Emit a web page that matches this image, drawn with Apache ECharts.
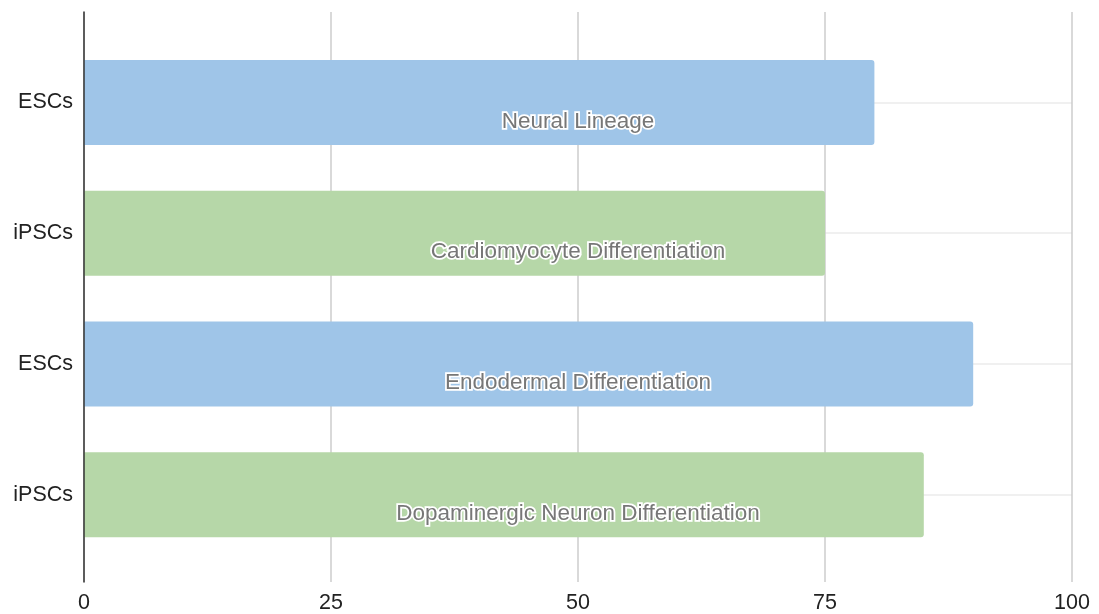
<!DOCTYPE html>
<html>
<head>
<meta charset="utf-8">
<title>Differentiation</title>
<script src="https://cdn.jsdelivr.net/npm/echarts@6/dist/echarts.min.js"></script>
<style>
  html, body { margin: 0; padding: 0; background: #fff; }
  #chart { width: 1099px; height: 614px; }
</style>
</head>
<body>
<div id="chart"></div>
<script>
    // data
    const cellTypes = ["ESCs", "iPSCs", "ESCs", "iPSCs"];
    const processes = [
        "Neural Lineage",
        "Cardiomyocyte Differentiation",
        "Endodermal Differentiation",
        "Dopaminergic Neuron Differentiation"
    ];
    const efficiency = [80, 75, 90, 85];
    const xTicks = [0, 25, 50, 75, 100];

    const axisMin = xTicks[0];
    const axisMax = xTicks[xTicks.length - 1];
    const tickStep = xTicks[1] - xTicks[0];
    const labelTrack = cellTypes.map(() => axisMax);

    const colorOf = { ESCs: "#9fc5e8", iPSCs: "#b6d7a8" };
    const font = "'Liberation Sans', Arial, sans-serif";

    const chart = echarts.init(document.getElementById("chart"));
    const option = {
        animation: false,
        textStyle: { fontFamily: font },
        grid: [
            // bars
            { left: 84, right: 27, top: 37, bottom: 54 },
            // frame: vertical grid lines, x labels, baseline
            { left: 84, right: 27, top: 12, bottom: 31 }
        ],
        xAxis: [
            {
                gridIndex: 0,
                type: "value",
                min: axisMin,
                max: axisMax,
                show: false
            },
            {
                gridIndex: 1,
                type: "value",
                min: axisMin,
                max: axisMax,
                interval: tickStep,
                axisLine: { show: false },
                axisTick: { show: false },
                axisLabel: { color: "#222", fontSize: 21.5, margin: 10, fontFamily: font },
                splitLine: { show: true, lineStyle: { color: "#cccccc", width: 1.5 } }
            }
        ],
        yAxis: [
            {
                gridIndex: 0,
                type: "category",
                inverse: true,
                data: cellTypes,
                axisLine: { show: false },
                axisTick: { show: false },
                axisLabel: { color: "#222", fontSize: 21.5, margin: 11, fontFamily: font },
                splitLine: {
                    show: true,
                    alignWithLabel: true,
                    lineStyle: { color: "#ebebeb", width: 1.5 }
                }
            },
            {
                gridIndex: 1,
                type: "value",
                min: 0,
                max: 1,
                z: 10,
                axisLine: { show: true, onZero: false, lineStyle: { color: "#333", width: 1.5 } },
                axisTick: { show: false },
                axisLabel: { show: false },
                splitLine: { show: false }
            }
        ],
        series: [
            {
                type: "bar",
                xAxisIndex: 0,
                yAxisIndex: 0,
                data: efficiency,
                barWidth: 85,
                barGap: "-100%",
                itemStyle: {
                    borderRadius: [0, 3, 3, 0],
                    color: p => colorOf[p.name]
                }
            },
            {
                // transparent full-width track that carries the centred labels
                type: "bar",
                xAxisIndex: 0,
                yAxisIndex: 0,
                data: labelTrack,
                barWidth: 85,
                barGap: "-100%",
                silent: true,
                z: 5,
                itemStyle: { color: "rgba(0,0,0,0)" },
                label: {
                    show: true,
                    position: "inside",
                    offset: [0, 19],
                    formatter: p => processes[p.dataIndex],
                    color: "#777",
                    fontSize: 22.5,
                    fontFamily: font,
                    textBorderColor: "#fff",
                    textBorderWidth: 3.5
                }
            }
        ]
    };
    chart.setOption(option);
</script>
</body>
</html>
